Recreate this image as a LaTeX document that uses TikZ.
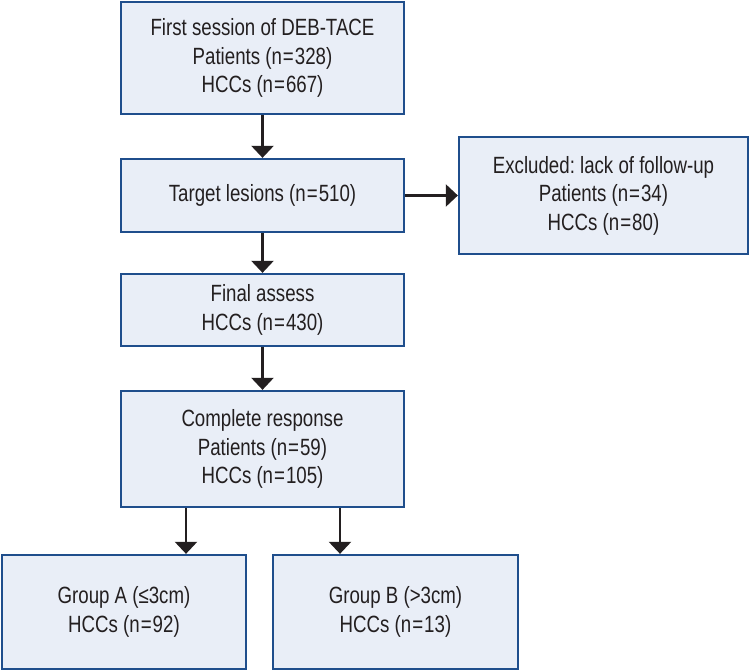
\documentclass[tikz,border=0pt]{standalone}
\usepackage{fontspec}
\setmainfont[FakeStretch=0.795]{Liberation Sans}
\usetikzlibrary{arrows.meta}
\definecolor{boxfill}{HTML}{E9EEF7}
\definecolor{boxedge}{HTML}{1F4E8C}
\definecolor{ink}{HTML}{231F20}
\newcommand{\myeq}{\kern1pt=\kern1pt}
\frenchspacing
\begin{document}
\begin{tikzpicture}[x=1pt,y=-1pt,
  box/.style={draw=boxedge,fill=boxfill,line width=2.3pt,rectangle,align=center,
    text=ink,inner sep=0pt,font=\fontsize{23.5}{28.5}\selectfont},
  arr/.style={draw=ink,line width=2.3pt,-{Triangle[width=22pt,length=12pt]}}]
\useasboundingbox (0,0) rectangle (750,671);
\node[box,minimum width=283pt,minimum height=112pt] (s1) at (262.5,58) {First session of DEB-TACE\\Patients (n\myeq 328)\\HCCs (n\myeq 667)};
\node[box,minimum width=283pt,minimum height=73pt] (s2) at (262.5,195.5) {Target lesions (n\myeq 510)};
\node[box,minimum width=289pt,minimum height=117pt] (ex) at (603.5,195.5) {Excluded: lack of follow-up\\Patients (n\myeq 34)\\HCCs (n\myeq 80)};
\node[box,minimum width=283pt,minimum height=72pt] (s3) at (262.5,310) {Final assess\\HCCs (n\myeq 430)};
\node[box,minimum width=283pt,minimum height=116pt] (s4) at (262.5,449) {Complete response\\Patients (n\myeq 59)\\HCCs (n\myeq 105)};
\node[box,minimum width=244pt,minimum height=114pt] (ga) at (124,612) {Group A (≤3cm)\\HCCs (n\myeq 92)};
\node[box,minimum width=245pt,minimum height=114pt] (gb) at (395.5,612) {Group B (>3cm)\\HCCs (n\myeq 13)};
\coordinate (xa) at (186,530);
\coordinate (xb) at (340,530);
\draw[arr] (s1) -- (s2);
\draw[arr] (s2) -- (ex);
\draw[arr] (s2) -- (s3);
\draw[arr] (s3) -- (s4);
\draw[arr] (s4.south -| xa) -- (ga.north -| xa);
\draw[arr] (s4.south -| xb) -- (gb.north -| xb);
\end{tikzpicture}
\end{document}
